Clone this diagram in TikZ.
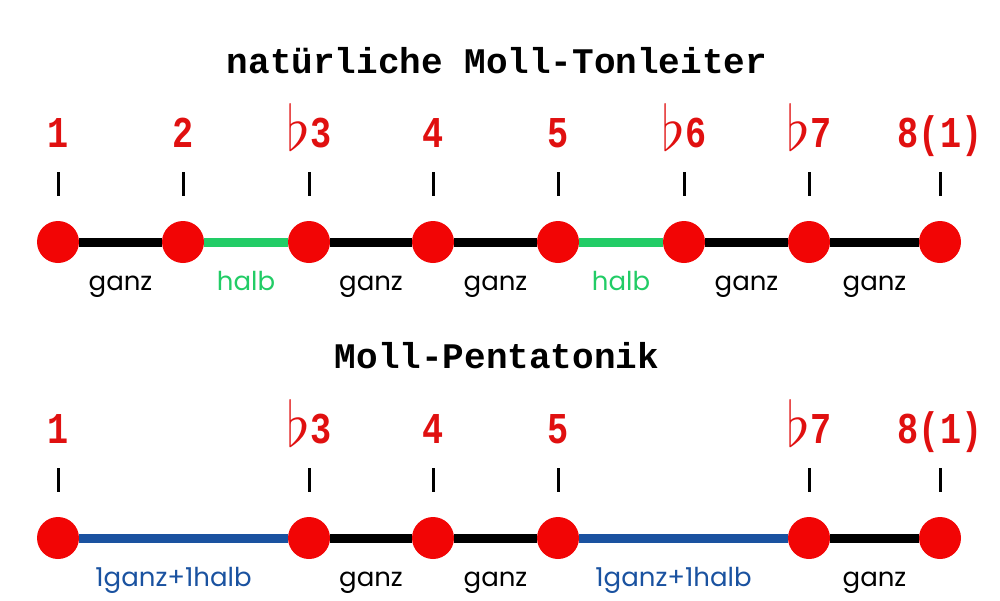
\documentclass[tikz,border=0pt]{standalone}
\usepackage{fontspec}
\usepackage{amssymb}
\usetikzlibrary{positioning}
\newfontfamily\titelfont{Liberation Mono}
\newfontfamily\zahlfont[FakeStretch=0.8]{Liberation Mono}
\newfontfamily\schrittfont{Poppins}
\definecolor{tonrot}{HTML}{F20505}
\definecolor{zahlrot}{HTML}{E01010}
\definecolor{halbgruen}{HTML}{22CC66}
\definecolor{mollblau}{HTML}{1A52A0}
\newcommand{\fl}{\raisebox{-3pt}{\resizebox{!}{47pt}{$\flat$}}}

\begin{document}
\begin{tikzpicture}[
	x=1pt, y=-1pt,
	ton/.style={circle, fill=tonrot, inner sep=0pt, minimum size=42pt},
	strich/.style={fill=black, inner sep=0pt, minimum width=3pt, minimum height=24pt},
	zahl/.style={text=zahlrot, inner sep=0pt, text depth=0pt, font=\zahlfont\bfseries\fontsize{44}{44}\selectfont},
	titel/.style={inner sep=0pt, font=\titelfont\bfseries\fontsize{36}{36}\selectfont},
	ganz/.style={line width=9pt, black},
	halb/.style={line width=9pt, halbgruen},
	kleineterz/.style={line width=9pt, mollblau},
	schritt/.style={inner sep=0pt, anchor=base, yshift=-48pt, font=\schrittfont\fontsize{26}{26}\selectfont}]
\useasboundingbox (0,0) rectangle (1000,600);

% natuerliche Moll-Tonleiter
\node[titel, anchor=base] (titel1) at (497,73) {natürliche Moll-Tonleiter};
\foreach \x/\n/\z in {58/1/1, 183/2/2, 309/3/\fl3, 433/4/4, 558/5/5, 684/6/\fl6, 809/7/\fl7, 940/8/8(1)}{
	\node[ton] (n\n) at (\x,242) {};
	\node[strich, above=25pt of n\n] (s\n) {};
	\node[zahl, above=24pt of s\n] (z\n) {\z};
}
\draw[ganz] (n1) -- (n2) node[schritt, midway] {ganz};
\draw[halb] (n2) -- (n3) node[schritt, midway, text=halbgruen] {halb};
\draw[ganz] (n3) -- (n4) node[schritt, midway] {ganz};
\draw[ganz] (n4) -- (n5) node[schritt, midway] {ganz};
\draw[halb] (n5) -- (n6) node[schritt, midway, text=halbgruen] {halb};
\draw[ganz] (n6) -- (n7) node[schritt, midway] {ganz};
\draw[ganz] (n7) -- (n8) node[schritt, midway] {ganz};

% Moll-Pentatonik
\node[titel, anchor=base] (titel2) at (497,368) {Moll-Pentatonik};
\foreach \x/\n/\z in {58/1/1, 309/3/\fl3, 433/4/4, 558/5/5, 809/7/\fl7, 940/8/8(1)}{
	\node[ton] (p\n) at (\x,538) {};
	\node[strich, above=25pt of p\n] (t\n) {};
	\node[zahl, above=24pt of t\n] (y\n) {\z};
}
\draw[kleineterz] (p1) -- (p3) node[schritt, midway, xshift=-10pt, text=mollblau] {1ganz+1halb};
\draw[ganz] (p3) -- (p4) node[schritt, midway] {ganz};
\draw[ganz] (p4) -- (p5) node[schritt, midway] {ganz};
\draw[kleineterz] (p5) -- (p7) node[schritt, midway, xshift=-10pt, text=mollblau] {1ganz+1halb};
\draw[ganz] (p7) -- (p8) node[schritt, midway] {ganz};
\end{tikzpicture}
\end{document}
